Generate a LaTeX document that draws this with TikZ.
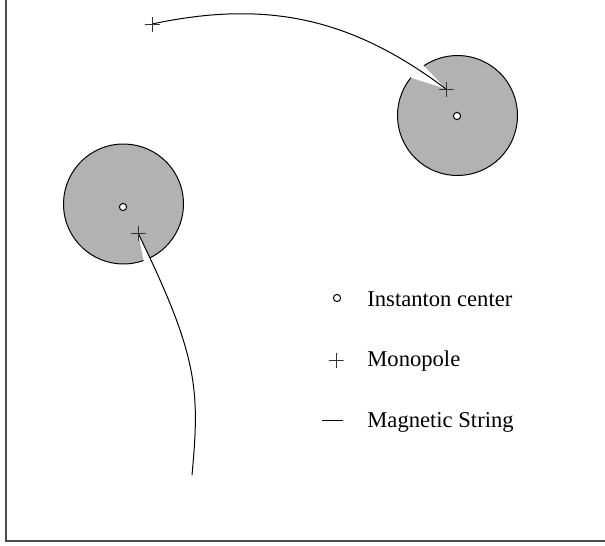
\documentclass[tikz,border=0pt]{standalone}
\usepackage{fontspec}
\setmainfont{Liberation Serif}
\usetikzlibrary{calc}

\begin{document}
\begin{tikzpicture}[
    x=0.5pt, y=0.5pt,
    monopole/.style={
        inner sep=0pt,
        minimum size=7.5pt,
        path picture={
            \draw[line width=0.5pt, black!80]
                (path picture bounding box.north) -- (path picture bounding box.south)
                (path picture bounding box.west) -- (path picture bounding box.east);
        }
    },
    icenter/.style={
        circle,
        draw,
        fill=white,
        line width=0.5pt,
        inner sep=0pt,
        minimum size=3.6pt
    },
    disk/.style={
        fill=black!30
    },
    string/.style={
        line width=0.5pt,
        draw=black
    },
    legend/.style={
        anchor=base west,
        inner sep=0pt,
        font=\fontsize{11.3}{13}\selectfont
    }
]
    \useasboundingbox (0,0) rectangle (605,-546);
    \draw[line width=0.8pt, black!70] (6,0) -- (6,-541) -- (605,-541);

    % disk centres
    \coordinate (cR) at (457.5,-115.5);
    \coordinate (cL) at (123.5,-204);

    \node[monopole] (mT) at (152,-24) {};
    \node[monopole] (mR) at (446,-89) {};
    \node[monopole] (mL) at (138,-233) {};
    \coordinate (sEnd) at (192,-475);

    % shaded instantons with the cut where the string leaves
    \fill[disk] (mR.center) -- ($(cR)+(141:60)$) arc[start angle=141, end angle=484, radius=60] -- cycle;
    \draw[line width=0.5pt] ($(cR)+(141:60)$) arc[start angle=141, end angle=484, radius=60];
    \fill[disk] (mL.center) -- ($(cL)+(-63.7:60)$) arc[start angle=-63.7, end angle=289.5, radius=60] -- cycle;
    \draw[line width=0.5pt] ($(cL)+(-63.7:60)$) arc[start angle=-63.7, end angle=289.5, radius=60];

    \node[icenter] (iR) at (457,-116) {};
    \node[icenter] (iL) at (123,-207) {};

    % magnetic strings
    \draw[string] (mT.center) to[out=12, in=143] (mR.center);
    \draw[string] (mL.center) .. controls (198,-356) and (200,-389) .. (sEnd);

    \node[monopole] at (mT) {};
    \node[monopole] at (mR) {};
    \node[monopole] at (mL) {};

    % legend
    \node[icenter] (kC) at (337,-298) {};
    \node[legend] (tC) at (367,-306) {Instanton center};
    \node[monopole] (kM) at (336,-360) {};
    \node[legend] (tM) at (367,-366) {Monopole};
    \coordinate (kS1) at (322,-420);
    \coordinate (kS2) at (343,-420);
    \draw[string] (kS1) -- (kS2);
    \node[legend] (tS) at (367,-427) {Magnetic String};
\end{tikzpicture}
\end{document}
